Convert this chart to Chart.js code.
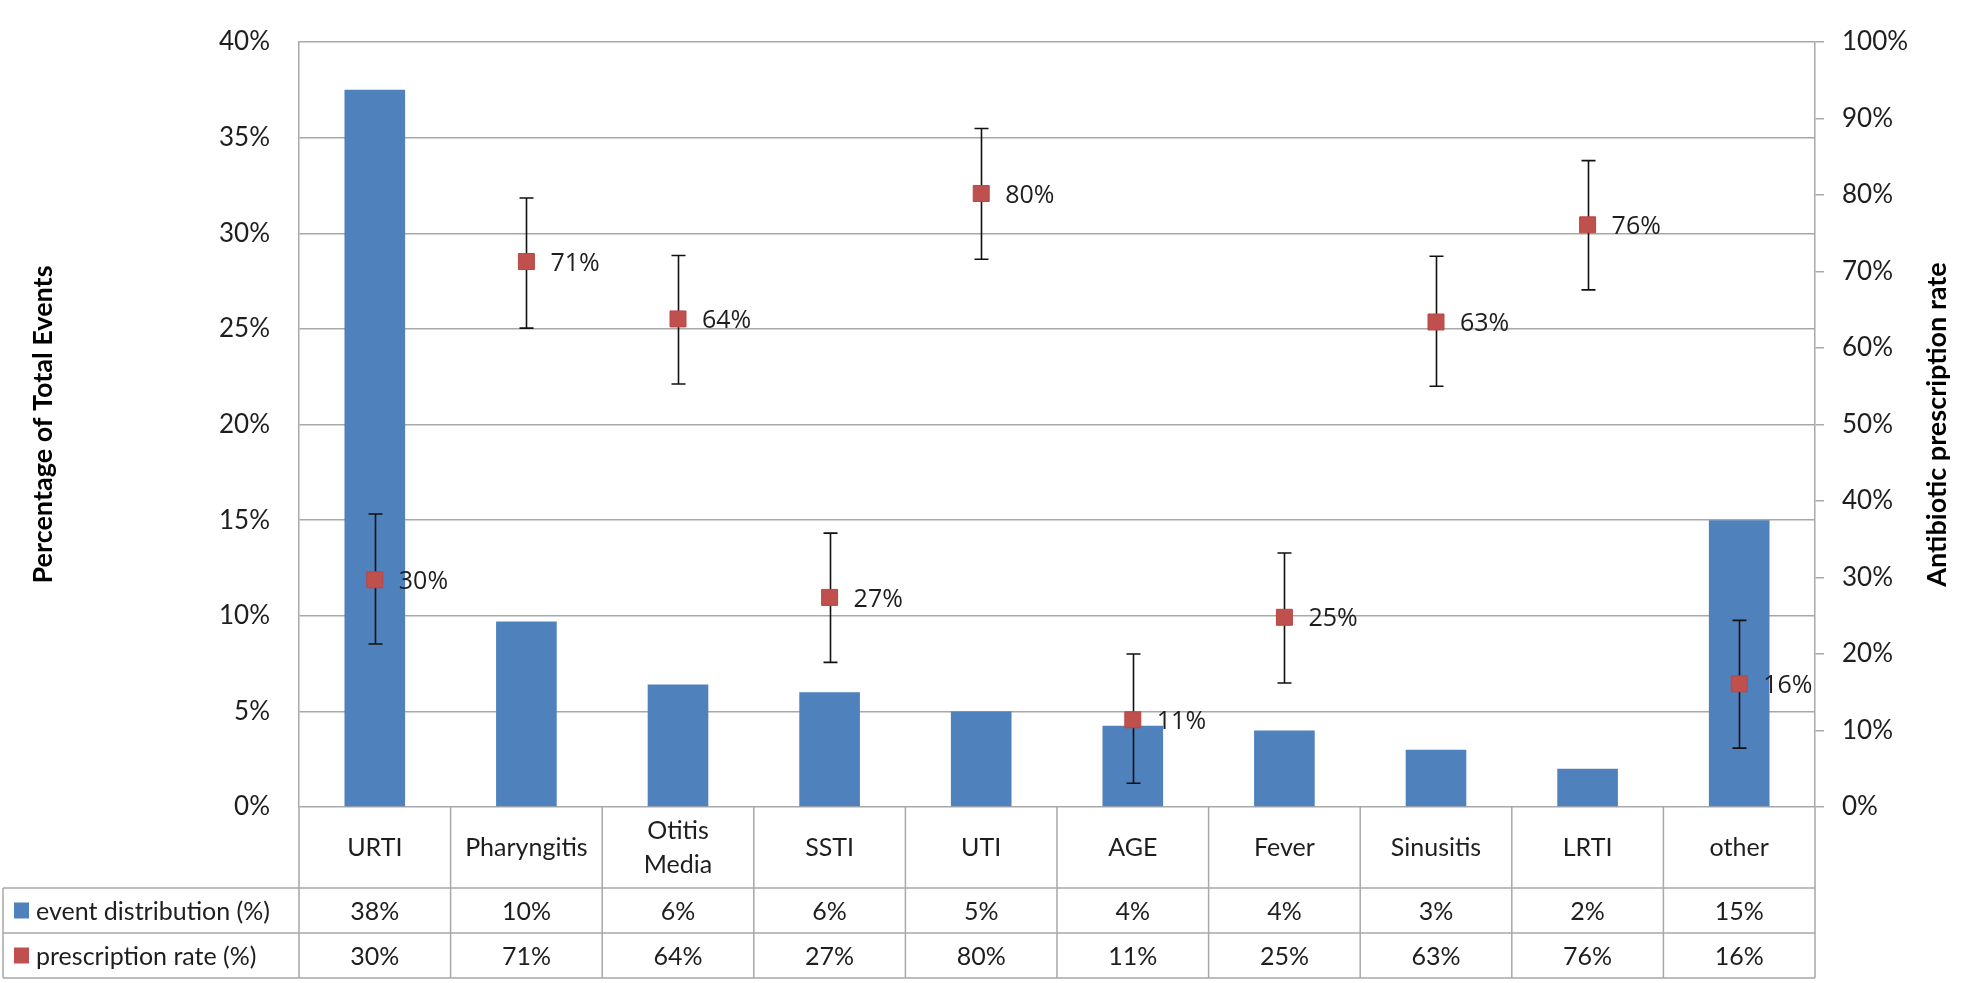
<!DOCTYPE html>
<html>
<head>
<meta charset="utf-8">
<script src="https://cdn.jsdelivr.net/npm/chart.js@4.4.1/dist/chart.umd.min.js"></script>
<style>
  html, body { margin: 0; padding: 0; background: #fff; }
  #wrap { width: 1961px; height: 983px; }
</style>
</head>
<body>
<div id="wrap"><canvas id="myChart"></canvas></div>
<script>
'use strict' ;

// categories (Otitis Media wraps on two lines in the table)
let categories = ['URTI', 'Pharyngitis', ['Otitis', 'Media'], 'SSTI', 'UTI', 'AGE', 'Fever', 'Sinusitis', 'LRTI', 'other'] ;

// % of total events (left axis)
let eventDist = [37.5, 9.7, 6.4, 6.0, 5.0, 4.25, 4.0, 3.0, 2.0, 15.0] ;

// antibiotic prescription rate (right axis) with error bar ends
let rxRate = [29.7, 71.3, 63.8, 27.4, 80.2, 11.4, 24.8, 63.4, 76.1, 16.1] ;
let rxLow = [21.3, 62.6, 55.3, 18.9, 71.6, 3.1, 16.2, 55.0, 67.6, 7.7] ;
let rxHigh = [38.3, 79.6, 72.1, 35.8, 88.7, 20.0, 33.2, 72.0, 84.5, 24.4] ;

let seriesNames = ['event distribution (%)', 'prescription rate (%)'] ;
let leftTitle = 'Percentage of Total Events' ;
let rightTitle = 'Antibiotic prescription rate' ;

let leftMax = 40 ;
let leftStep = 5 ;
let rightMax = 100 ;
let rightStep = 10 ;

const blue = '#4F81BD' ;
const red = '#C0504D' ;
const gridCol = '#a8a8a8' ;
const txtCol = '#1e1e1e' ;
const font = 'Lato, "Liberation Sans", sans-serif' ;

function pct (v)
{
  return Math.round(v) + '%' ;
}

// error bars go between the bars and the red squares
const errorBars = {
  id: 'errorBars',
  beforeDatasetDraw (chart, args)
  {
    if (args.index !== 1) return ;
    const ctx = chart.ctx ;
    const y2 = chart.scales.y2 ;
    const pts = args.meta.data ;
    ctx.save() ;
    ctx.strokeStyle = '#111' ;
    ctx.lineWidth = 1.6 ;
    ctx.beginPath() ;
    for (let i = 0 ; i < pts.length ; i++)
    {
      let x = Math.round(pts[i].x) + 0.5 ;
      let yl = y2.getPixelForValue(rxLow[i]) ;
      let yh = y2.getPixelForValue(rxHigh[i]) ;
      ctx.moveTo(x, yl) ; ctx.lineTo(x, yh) ;
      ctx.moveTo(x - 7, yl) ; ctx.lineTo(x + 7, yl) ;
      ctx.moveTo(x - 7, yh) ; ctx.lineTo(x + 7, yh) ;
    }
    ctx.stroke() ;
    ctx.restore() ;
  }
} ;

const pointLabels = {
  id: 'pointLabels',
  afterDatasetsDraw (chart)
  {
    const ctx = chart.ctx ;
    const pts = chart.getDatasetMeta(1).data ;
    ctx.save() ;
    ctx.fillStyle = txtCol ;
    ctx.font = '25px "Open Sans", sans-serif' ;
    ctx.textAlign = 'left' ;
    ctx.textBaseline = 'middle' ;
    for (let i = 0 ; i < pts.length ; i++)
    {
      ctx.fillText(pct(rxRate[i]), pts[i].x + 24, pts[i].y + 2) ;
    }
    ctx.restore() ;
  }
} ;

// right axis title reads bottom to top, like the left one
const rightAxisTitle = {
  id: 'rightAxisTitle',
  afterDraw (chart)
  {
    const ctx = chart.ctx ;
    const area = chart.chartArea ;
    ctx.save() ;
    ctx.translate(1937, (area.top + area.bottom) / 2) ;
    ctx.rotate(-Math.PI / 2) ;
    ctx.fillStyle = '#000' ;
    ctx.font = 'bold 27px ' + font ;
    ctx.textAlign = 'center' ;
    ctx.textBaseline = 'middle' ;
    ctx.fillText(rightTitle, 0, 0) ;
    ctx.restore() ;
  }
} ;

// data table under the plot
const dataTable = {
  id: 'dataTable',
  afterDraw (chart)
  {
    const ctx = chart.ctx ;
    const x = chart.scales.x ;
    const area = chart.chartArea ;
    const colW = (area.right - area.left) / categories.length ;
    const top = area.bottom ;
    const r1 = top + 81 ;
    const r2 = r1 + 45 ;
    const r3 = r2 + 45 ;
    const left = 3 ;

    ctx.save() ;
    ctx.strokeStyle = gridCol ;
    ctx.lineWidth = 1.5 ;
    ctx.beginPath() ;
    for (let i = 0 ; i <= categories.length ; i++)
    {
      let xb = area.left + i * colW ;
      ctx.moveTo(xb, top) ; ctx.lineTo(xb, r3) ;
    }
    [r1, r2, r3].forEach(function (y) { ctx.moveTo(left, y) ; ctx.lineTo(area.right, y) ; }) ;
    ctx.moveTo(left, r1) ; ctx.lineTo(left, r3) ;
    ctx.stroke() ;

    ctx.fillStyle = txtCol ;
    ctx.font = '25px ' + font ;
    ctx.textAlign = 'center' ;
    ctx.textBaseline = 'middle' ;
    let midCat = (top + r1) / 2 ;
    for (let i = 0 ; i < categories.length ; i++)
    {
      let cx = x.getPixelForValue(i) ;
      let lab = categories[i] ;
      if (Array.isArray(lab))
      {
        ctx.fillText(lab[0], cx, midCat - 17) ;
        ctx.fillText(lab[1], cx, midCat + 17) ;
      }
      else ctx.fillText(lab, cx, midCat) ;
      ctx.fillText(pct(eventDist[i]), cx, (r1 + r2) / 2 + 1) ;
      ctx.fillText(pct(rxRate[i]), cx, (r2 + r3) / 2 + 1) ;
    }

    // legend keys
    ctx.textAlign = 'left' ;
    ctx.fillStyle = blue ;
    ctx.fillRect(14, (r1 + r2) / 2 - 8, 15, 16) ;
    ctx.fillStyle = red ;
    ctx.fillRect(14, (r2 + r3) / 2 - 8, 15, 16) ;
    ctx.fillStyle = txtCol ;
    ctx.fillText(seriesNames[0], 36, (r1 + r2) / 2 + 1) ;
    ctx.fillText(seriesNames[1], 36, (r2 + r3) / 2 + 1) ;
    ctx.restore() ;
  }
} ;

let ctx = document.getElementById('myChart').getContext('2d') ;
let myChart = new Chart(ctx, {
  type: 'bar',
  data: {
    labels: categories,
    datasets: [
      {
        label: seriesNames[0],
        data: eventDist,
        backgroundColor: blue,
        borderWidth: 0,
        barPercentage: 0.4,
        categoryPercentage: 1,
        yAxisID: 'y',
        order: 1
      },
      {
        type: 'line',
        label: seriesNames[1],
        data: rxRate,
        showLine: false,
        pointStyle: 'rect',
        pointRadius: 11.3,
        backgroundColor: red,
        borderColor: '#b94744',
        borderWidth: 1,
        yAxisID: 'y2',
        order: 0
      }
    ]
  },
  options: {
    responsive: true,
    maintainAspectRatio: false,
    animation: false,
    layout: { padding: { top: 13, bottom: 176, left: 0, right: 0 } },
    plugins: {
      legend: { display: false },
      tooltip: { enabled: false }
    },
    scales: {
      x: {
        display: false,
        offset: true
      },
      y: {
        position: 'left',
        min: 0,
        max: leftMax,
        afterFit: function (s) { s.width = 299 ; },
        ticks: {
          stepSize: leftStep,
          padding: 29,
          color: txtCol,
          font: { family: font, size: 26, lineHeight: 1 },
          callback: function (v) { return v + '%' ; }
        },
        grid: { color: gridCol, lineWidth: 1.5, drawTicks: false },
        border: { display: true, color: gridCol, width: 1.5 },
        title: {
          display: true,
          text: leftTitle,
          color: '#000',
          padding: { top: 27, bottom: 0 },
          font: { family: font, size: 27, weight: 'bold' }
        }
      },
      y2: {
        position: 'right',
        min: 0,
        max: rightMax,
        afterFit: function (s) { s.width = 146 ; },
        ticks: {
          stepSize: rightStep,
          padding: 18,
          color: txtCol,
          font: { family: font, size: 26, lineHeight: 1 },
          callback: function (v) { return v + '%' ; }
        },
        grid: { drawOnChartArea: false, color: gridCol, lineWidth: 1.5, tickLength: 9 },
        border: { display: true, color: gridCol, width: 1.5 }
      }
    }
  },
  plugins: [errorBars, pointLabels, rightAxisTitle, dataTable]
}) ;
</script>
</body>
</html>
